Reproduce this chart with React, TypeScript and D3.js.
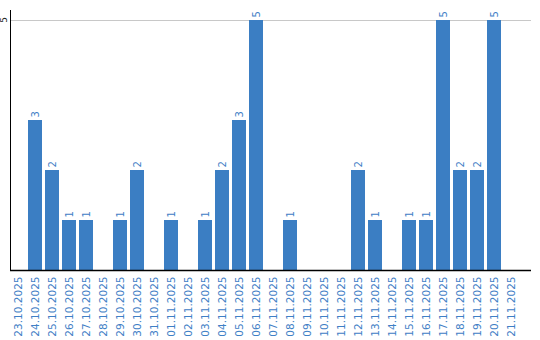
import React from "react";
import * as d3 from "d3";

const dates = [
  "23.10.2025","24.10.2025","25.10.2025","26.10.2025","27.10.2025","28.10.2025",
  "29.10.2025","30.10.2025","31.10.2025","01.11.2025","02.11.2025","03.11.2025",
  "04.11.2025","05.11.2025","06.11.2025","07.11.2025","08.11.2025","09.11.2025",
  "10.11.2025","11.11.2025","12.11.2025","13.11.2025","14.11.2025","15.11.2025",
  "16.11.2025","17.11.2025","18.11.2025","19.11.2025","20.11.2025","21.11.2025",
];
const counts = [0,3,2,1,1,0,1,2,0,1,0,1,2,3,5,0,1,0,0,0,2,1,0,1,1,5,2,2,5,0];
const yTicks = [5];

const W = 540, H = 340;
const left = 11, plotTop = 10, baseline = 270, axisRight = 531;
const step = 17, barW = 14;
const blue = "#3b7ec3";
const labelBlue = "#3f80c6";

export default function App() {
  const x = d3.scaleBand<string>().domain(dates).range([left, left + step * dates.length]).paddingInner(0).paddingOuter(0);
  const y = d3.scaleLinear().domain([0, 5]).range([baseline, 20]);
  return (
    <svg width={W} height={H} style={{ position: "absolute", left: 0, top: 0 }} fontFamily="DejaVu Sans, Verdana, sans-serif">
      {yTicks.map((t) => (
        <g key={t}>
          <line x1={left} x2={axisRight} y1={y(t) + 0.5} y2={y(t) + 0.5} stroke="#c8c8c8" strokeWidth={1} />
          <text transform={`translate(7,${y(t)}) rotate(-90)`} textAnchor="middle" fontSize={9} fill="#222">{t}</text>
        </g>
      ))}
      {dates.map((d, i) => {
        const v = counts[i];
        const bx = x(d)!;
        const cx = bx + barW / 2;
        return (
          <g key={d}>
            {v > 0 && (
              <>
                <rect x={bx} y={y(v)} width={barW} height={baseline - y(v)} fill={blue} />
                <text transform={`translate(${cx + 4},${y(v) - 2.5}) rotate(-90)`} textAnchor="start" fontSize={10} fill={labelBlue}>{v}</text>
              </>
            )}
            <text transform={`translate(${cx + 4},276.5) rotate(-90)`} textAnchor="end" fontSize={10.5} fill={labelBlue}>{d}</text>
          </g>
        );
      })}
      <line x1={10.5} x2={10.5} y1={plotTop} y2={baseline} stroke="#000" strokeWidth={1} />
      <line x1={10} x2={axisRight} y1={baseline + 0.5} y2={baseline + 0.5} stroke="#000" strokeWidth={1.5} />
    </svg>
  );
}
